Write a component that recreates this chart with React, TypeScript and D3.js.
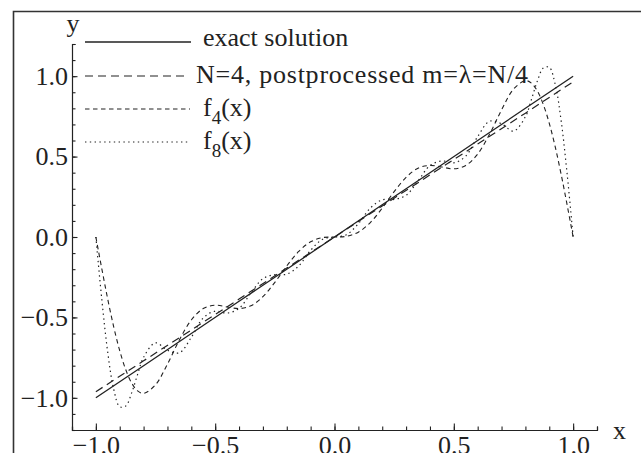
import { useEffect, useRef } from 'react'
import * as d3 from 'd3'

// sample grid (finer near the ends where f8 turns sharply)
const xGrid = [
  -1, -0.975, -0.95, -0.925, -0.9, -0.875, -0.85, -0.825, -0.8, -0.75, -0.7, -0.65, -0.6, -0.55,
  -0.5, -0.45, -0.4, -0.35, -0.3, -0.25, -0.2, -0.15, -0.1, -0.05, 0, 0.05, 0.1, 0.15, 0.2, 0.25,
  0.3, 0.35, 0.4, 0.45, 0.5, 0.55, 0.6, 0.65, 0.7, 0.75, 0.8, 0.825, 0.85, 0.875, 0.9, 0.925,
  0.95, 0.975, 1,
]
const f4Values = [
  0, -0.198, -0.388, -0.56, -0.707, -0.824, -0.908, -0.957, -0.972, -0.919, -0.79, -0.64, -0.516,
  -0.445, -0.424, -0.435, -0.445, -0.428, -0.371, -0.282, -0.18, -0.09, -0.03, -0.004, 0, 0.004,
  0.03, 0.09, 0.18, 0.282, 0.371, 0.428, 0.445, 0.435, 0.424, 0.445, 0.516, 0.64, 0.79, 0.919,
  0.972, 0.957, 0.908, 0.824, 0.707, 0.56, 0.388, 0.198, 0,
]
const f8Values = [
  0, -0.39, -0.72, -0.948, -1.055, -1.051, -0.969, -0.854, -0.748, -0.658, -0.704, -0.72, -0.624,
  -0.503, -0.461, -0.473, -0.444, -0.348, -0.259, -0.234, -0.231, -0.18, -0.083, -0.014, 0, 0.014,
  0.083, 0.18, 0.231, 0.234, 0.259, 0.348, 0.444, 0.473, 0.461, 0.503, 0.624, 0.72, 0.704, 0.658,
  0.748, 0.854, 0.969, 1.051, 1.055, 0.948, 0.72, 0.39, 0,
]
const xLinear = [-1, -0.8, -0.6, -0.4, -0.2, 0, 0.2, 0.4, 0.6, 0.8, 1]
const exactValues = [-1, -0.8, -0.6, -0.4, -0.2, 0, 0.2, 0.4, 0.6, 0.8, 1]
const postValues = [-0.962, -0.77, -0.578, -0.386, -0.193, 0, 0.193, 0.386, 0.578, 0.77, 0.965]

const xMajor = [-1, -0.5, 0, 0.5, 1]
const yMajor = [-1, -0.5, 0, 0.5, 1]

const legendLabels = ['exact solution', 'N=4, postprocessed m=λ=N/4', 'f4(x)', 'f8(x)']

const FONT = 'Liberation Serif'
const INK = '#222'

export default function App() {
  const ref = useRef<SVGSVGElement>(null)

  useEffect(() => {
    if (!ref.current) return
    const width = 641
    const height = 453
    const svg = d3.select(ref.current)
    svg.selectAll('*').remove()
    svg.attr('width', width).attr('height', height)

    const x = d3.scaleLinear().domain([-1.1, 1.1]).range([72, 597])
    const y = d3.scaleLinear().domain([-1.2, 1.2]).range([430, 44])

    // frame
    svg.append('path')
      .attr('d', `M13.5,${height + 5}V11.5H${width + 5}`)
      .attr('fill', 'none').attr('stroke', '#333').attr('stroke-width', 1.6)

    const styleAxis = (s: any) => {
      s.attr('font-family', FONT)
      s.select('.domain').attr('stroke', INK).attr('stroke-width', 1.2)
      s.selectAll('.tick line').attr('stroke', INK).attr('stroke-width', 1.1)
      s.selectAll('.tick text').attr('fill', INK).attr('font-size', 26).attr('font-family', FONT)
    }

    const minorX = d3.range(-11, 12).map((i) => i / 10)
    const minorY = d3.range(-12, 13).map((i) => i / 10)

    // x axis: minor then major
    svg.append('g')
      .attr('transform', 'translate(0,430)')
      .call(d3.axisBottom(x).tickValues(minorX).tickSize(-3.5).tickFormat(() => ''))
      .call(styleAxis)
    svg.append('g')
      .attr('transform', 'translate(0,430)')
      .call(d3.axisBottom(x).tickValues(xMajor).tickSize(-6.5).tickPadding(6).tickFormat(d3.format('.1f')))
      .call(styleAxis)
      .call((s) => s.select('.domain').remove())

    // y axis
    svg.append('g')
      .attr('transform', 'translate(72,0)')
      .call(d3.axisLeft(y).tickValues(minorY).tickSize(-3.5).tickFormat(() => ''))
      .call(styleAxis)
    svg.append('g')
      .attr('transform', 'translate(72,0)')
      .call(d3.axisLeft(y).tickValues(yMajor).tickSize(-5.5).tickPadding(4).tickFormat(d3.format('.1f')))
      .call(styleAxis)
      .call((s) => s.select('.domain').remove())

    svg.append('text').attr('x', 73).attr('y', 32).attr('text-anchor', 'middle')
      .attr('font-family', FONT).attr('font-size', 26).attr('fill', INK).text('y')
    svg.append('text').attr('x', 613).attr('y', 439)
      .attr('font-family', FONT).attr('font-size', 26).attr('fill', INK).text('x')

    const styles = [
      { dash: null, width: 1.3 },
      { dash: '8,5', width: 1.2 },
      { dash: '4.5,3.5', width: 1.1 },
      { dash: '1.4,3.4', width: 1.2 },
    ]

    const line = d3.line<[number, number]>().x((d) => x(d[0])).y((d) => y(d[1]))
    const smooth = d3.line<[number, number]>().x((d) => x(d[0])).y((d) => y(d[1])).curve(d3.curveCatmullRom)

    const paths = [
      line(xLinear.map((v, i) => [v, exactValues[i]])),
      line(xLinear.map((v, i) => [v, postValues[i]])),
      smooth(xGrid.map((v, i) => [v, f4Values[i]])),
      smooth(xGrid.map((v, i) => [v, f8Values[i]])),
    ]
    paths.forEach((d, k) => {
      svg.append('path').attr('d', d).attr('fill', 'none').attr('stroke', INK)
        .attr('stroke-width', styles[k].width)
        .attr('stroke-dasharray', styles[k].dash)
    })

    // legend
    const rowY = [42, 76, 109, 142]
    const lineEnd = [191, 186, 190, 190]
    const textX = [203, 196, 203, 203]
    legendLabels.forEach((label, i) => {
      svg.append('line')
        .attr('x1', 85).attr('x2', lineEnd[i]).attr('y1', rowY[i]).attr('y2', rowY[i])
        .attr('stroke', INK).attr('stroke-width', styles[i].width)
        .attr('stroke-dasharray', styles[i].dash)
      const t = svg.append('text').attr('x', textX[i]).attr('y', rowY[i] + (i === 0 ? 4 : 6.5))
        .attr('font-family', FONT).attr('font-size', 26).attr('fill', INK)
      if (i >= 2) {
        t.append('tspan').text(label[0])
        t.append('tspan').attr('dy', 8).attr('font-size', 19).text(label[1])
        t.append('tspan').attr('dy', -8).text(label.slice(2))
      } else {
        t.text(label)
        if (i === 1) t.attr('textLength', 332).attr('lengthAdjust', 'spacing')
      }
    })
  }, [])

  return (
    <svg ref={ref} style={{ position: 'absolute', left: 0, top: 0, display: 'block', background: '#fff' }} />
  )
}
